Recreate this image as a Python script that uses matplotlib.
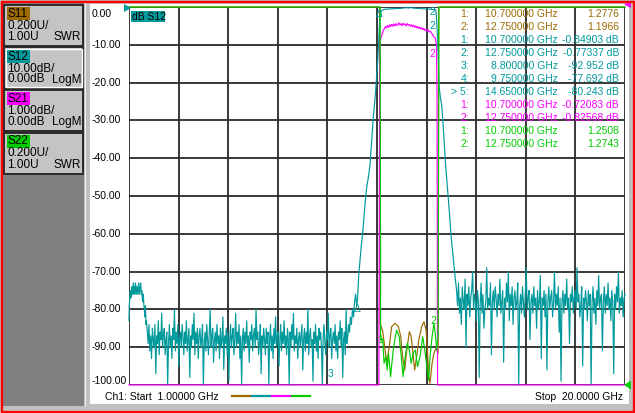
import numpy as np
import matplotlib
matplotlib.use("Agg")
import matplotlib.pyplot as plt
from matplotlib.patches import Rectangle, Polygon

W, H = 635, 413
FONT = "Liberation Sans"

# ---------------- colours ----------------
C_S11 = '#9c6a00'
C_S12 = '#00999c'
C_S21 = '#ff00ff'
C_S22 = '#00cc00'
C_GRID = '#2a2a2a'

# ---------------- sweep ----------------
f_start, f_stop = 1.0, 20.0
n_div = 10

# ---------------- S12 (dB, 10 dB/div, ref 0 dB at top) ----------------
s12_start_f = [1.00, 1.01, 1.03, 1.05, 1.07, 1.09, 1.11, 1.13, 1.15, 1.17, 1.19, 1.21, 1.23,
               1.25, 1.27, 1.29, 1.31, 1.33, 1.35, 1.37, 1.39, 1.41, 1.43, 1.45, 1.47, 1.49,
               1.51, 1.53, 1.55, 1.57, 1.59, 1.61, 1.63, 1.65, 1.67]
s12_start_db = [-83, -79, -77, -75, -77, -76, -74, -76, -75, -73, -76, -74, -75,
                -73, -76, -74, -75, -76, -74, -73, -76, -75, -74, -73, -76, -75,
                -77, -78, -76, -79, -80, -82, -79, -84, -83]

s12_noise_left_range = (1.70, 9.48)
s12_noise_left_db = [
    -86, -89, -84, -91, -87, -93, -85, -88, -90, -84, -97, -87, -89, -83, -92, -86, -88, -81, -90, -87,
    -85, -92, -88, -86, -100, -89, -84, -90, -87, -93, -85, -88, -80, -91, -86, -89, -84, -95, -88, -86,
    -90, -84, -87, -92, -86, -89, -83, -91, -88, -85, -98, -87, -90, -84, -88, -81, -92, -86, -89, -85,
    -93, -87, -85, -90, -88, -84, -101, -89, -86, -91, -84, -88, -92, -86, -80, -90, -87, -85, -94, -88,
    -86, -91, -84, -89, -87, -93, -85, -90, -88, -82, -96, -87, -89, -85, -92, -86, -99, -88, -84, -90,
    -87, -85, -92, -88, -81, -90, -86, -89, -84, -93, -87, -100, -88, -85, -91, -86, -89, -83, -90, -87,
    -94, -86, -88, -84, -91, -87, -85, -90, -80, -88, -86, -92, -89, -84, -97, -87, -90, -85, -88, -92,
    -85, -89, -86, -102, -88, -84, -91, -87, -93, -85, -89, -82, -90, -87, -86, -95, -88, -84, -91, -86,
    -89, -83, -90, -87, -92, -85, -88, -100, -86, -90, -84, -88, -81, -91, -87, -89, -85, -93, -88, -86,
    -90, -87, -84, -96, -88, -85, -91, -86, -89, -80, -92, -87, -85, -90, -88, -99, -86, -89, -84, -91,
    -87, -93, -85, -88, -86, -90, -101, -87, -84, -89, -92, -86, -88, -81, -90, -87, -85, -93, -88, -86,
    -89, -84, -91, -87, -93, -86, -88, -83, -90, -85, -98, -88, -86, -92, -80, -89, -87, -84, -86, -82]

s12_skirt_left_f = [9.52, 9.56, 9.60, 9.64, 9.68, 9.72, 9.75, 9.80, 9.85, 9.90, 9.95, 10.03,
                    10.10, 10.17, 10.23, 10.30, 10.36, 10.42, 10.47, 10.53, 10.57, 10.60, 10.63, 10.67]
s12_skirt_left_db = [-84, -80, -82, -78, -76, -79, -77.7, -71, -67, -63, -60, -53,
                     -48, -45, -42, -35, -29, -24.6, -20, -14, -8, -4, -1.8, -1.0]

s12_pass_f = [10.70, 10.80, 10.90, 11.00, 11.10, 11.20, 11.35, 11.50, 11.60, 11.70, 11.80,
              11.90, 12.00, 12.15, 12.30, 12.45, 12.60, 12.70, 12.75]
s12_pass_db = [-0.85, -0.62, -0.55, -0.50, -0.45, -0.42, -0.38, -0.30, -0.18, -0.28, -0.15,
               -0.30, -0.35, -0.42, -0.48, -0.55, -0.62, -0.72, -0.77]

s12_skirt_right_f = [12.78, 12.82, 12.85, 12.88, 12.93, 12.98, 13.05, 13.13, 13.20, 13.27,
                     13.33, 13.40, 13.46, 13.50]
s12_skirt_right_db = [-3, -8, -14, -21, -24, -26, -33, -42, -48, -54, -60, -65, -69, -72]

s12_noise_right_range = (13.55, 20.0)
s12_noise_right_db = [
    -75, -79, -73, -81, -77, -84, -74, -78, -80, -72, -90, -76, -79, -74, -82, -77, -75, -70, -80, -76,
    -78, -83, -75, -77, -98, -79, -73, -81, -76, -85, -80, -78, -69, -80, -77, -79, -73, -92, -78, -75,
    -80, -74, -77, -82, -76, -79, -72, -81, -78, -75, -94, -77, -80, -73, -78, -70, -83, -76, -79, -74,
    -84, -77, -75, -80, -78, -73, -100, -79, -76, -81, -74, -78, -82, -76, -69, -80, -77, -75, -88, -78,
    -76, -81, -74, -79, -77, -85, -75, -80, -78, -71, -93, -77, -79, -75, -82, -76, -96, -78, -74, -80,
    -77, -75, -82, -78, -70, -80, -76, -79, -74, -86, -77, -99, -78, -75, -81, -76, -79, -72, -80, -77,
    -89, -76, -78, -74, -81, -77, -75, -80, -69, -78, -76, -82, -79, -74, -95, -77, -80, -75, -78, -83,
    -75, -79, -76, -101, -78, -74, -81, -77, -84, -75, -79, -71, -80, -77, -76, -91, -78, -74, -81, -76,
    -79, -73, -80, -77, -83, -75, -78, -97, -76, -80, -74, -78, -70, -81, -77, -79, -75, -82, -77, -76]

# ---------------- S21 (dB, 1 dB/div, ref 0 dB at top) ----------------
s21_f = [1.00, 10.57, 10.60,
         10.62, 10.66, 10.70, 10.74, 10.78, 10.82, 10.86, 10.90, 10.94, 10.98, 11.02, 11.06,
         11.10, 11.14, 11.18, 11.22, 11.26, 11.30, 11.34, 11.38, 11.42, 11.46, 11.50, 11.54,
         11.58, 11.62, 11.66, 11.70, 11.74, 11.78, 11.82, 11.86, 11.90, 11.94, 11.98, 12.02,
         12.06, 12.10, 12.14, 12.18, 12.22, 12.26, 12.30, 12.34, 12.38, 12.42, 12.46, 12.50,
         12.54, 12.58, 12.62, 12.66, 12.70, 12.74, 12.78,
         12.80, 12.82, 20.00]
s21_db = [-76.0, -10.5, -2.5,
          -0.95, -0.78, -0.72, -0.62, -0.58, -0.52, -0.55, -0.49, -0.54, -0.47, -0.52, -0.46,
          -0.51, -0.45, -0.50, -0.44, -0.49, -0.46, -0.42, -0.48, -0.44, -0.49, -0.43, -0.47,
          -0.45, -0.50, -0.44, -0.48, -0.46, -0.51, -0.47, -0.52, -0.48, -0.54, -0.50, -0.55,
          -0.52, -0.57, -0.53, -0.58, -0.55, -0.60, -0.57, -0.62, -0.59, -0.64, -0.61, -0.66,
          -0.64, -0.68, -0.72, -0.78, -0.80, -0.83, -1.05,
          -2.5, -10.5, -78.0]

# ---------------- S11 (SWR, 0.2 U/div, ref 1.00 U at bottom) ----------------
s11_f = [1.00, 10.60,
         10.615, 10.72, 10.81, 10.87, 10.97, 11.06, 11.19, 11.32, 11.41, 11.48, 11.56, 11.64,
         11.74, 11.81, 11.89, 11.94, 12.02, 12.10, 12.21, 12.30, 12.38, 12.43, 12.48, 12.53,
         12.61, 12.68, 12.76, 12.84,
         12.86, 20.00]
s11_swr = [12.0, 12.0,
           1.326, 1.285, 1.185, 1.115, 1.203, 1.309, 1.326, 1.309, 1.256, 1.150, 1.079, 1.185,
           1.282, 1.256, 1.150, 1.079, 1.150, 1.238, 1.309, 1.335, 1.291, 1.185, 1.044, 1.009,
           1.115, 1.168, 1.195, 1.168,
           12.0, 12.0]

# ---------------- S22 (SWR, 0.2 U/div, ref 1.00 U at bottom) ----------------
s22_f = [1.00, 10.62,
         10.64, 10.72, 10.77, 10.84, 10.89, 10.94, 11.02, 11.12, 11.25, 11.35, 11.43, 11.50,
         11.58, 11.66, 11.74, 11.81, 11.89, 11.97, 12.05, 12.15, 12.25, 12.33, 12.41, 12.48,
         12.53, 12.61, 12.68, 12.73, 12.79, 12.84,
         12.875, 20.00]
s22_swr = [12.0, 12.0,
           1.238, 1.245, 1.115, 1.150, 1.079, 1.168, 1.044, 1.185, 1.291, 1.256, 1.150, 1.044,
           1.150, 1.220, 1.185, 1.115, 1.168, 1.185, 1.097, 1.150, 1.256, 1.185, 1.097, 1.026,
           1.150, 1.256, 1.326, 1.274, 1.185, 1.256,
           12.0, 12.0]

# ---------------- channel setup (left panel) ----------------
ch_names = ["S11", "S12", "S21", "S22"]
ch_colors = [C_S11, C_S12, C_S21, C_S22]
ch_scale = ["0.200U/", "10.00dB/", "1.000dB/", "0.200U/"]
ch_ref = ["1.00U", "0.00dB", "0.00dB", "1.00U"]
ch_fmt = ["SWR", "LogM", "LogM", "SWR"]

ytick_labels = ["0.00", "-10.00", "-20.00", "-30.00", "-40.00", "-50.00",
                "-60.00", "-70.00", "-80.00", "-90.00", "-100.00"]

# ---------------- marker readout ----------------
mk_idx = ["1:", "2:", "1:", "2:", "3:", "4:", "> 5:", "1:", "2:", "1:", "2:"]
mk_freq = ["10.700000 GHz", "12.750000 GHz", "10.700000 GHz", "12.750000 GHz",
           "8.800000 GHz", "9.750000 GHz", "14.650000 GHz", "10.700000 GHz",
           "12.750000 GHz", "10.700000 GHz", "12.750000 GHz"]
mk_val = ["1.2776", "1.1966", "-0.84903 dB", "-0.77337 dB", "-92.952 dB", "-77.692 dB",
          "-80.243 dB", "-0.72083 dB", "-0.82568 dB", "1.2508", "1.2743"]
mk_col = [C_S11, C_S11, C_S12, C_S12, C_S12, C_S12, C_S12, C_S21, C_S21, C_S22, C_S22]
mk_num_f = [10.70, 12.75, 10.70, 12.75, 8.80, 9.75, 14.65, 10.70, 12.75, 10.70, 12.75]
mk_num_v = [1.2776, 1.1966, -0.84903, -0.77337, -92.952, -77.692, -80.243,
            -0.72083, -0.82568, 1.2508, 1.2743]

# ======================================================================
fig = plt.figure(figsize=(W / 100, H / 100), dpi=100, facecolor='#c0c0c0')


def rect(x0, y0, x1, y1, z=-10, **kw):
    r = Rectangle((x0 / W, 1 - y1 / H), (x1 - x0) / W, (y1 - y0) / H,
                  transform=fig.transFigure, zorder=z, **kw)
    fig.add_artist(r)
    return r


def ftext(x, y, s, **kw):
    kw.setdefault('family', FONT)
    kw.setdefault('fontsize', 7.5)
    kw.setdefault('va', 'center')
    return fig.text(x / W, 1 - y / H, s, **kw)


# window background pieces
rect(90, 4, 629, 404, facecolor='white', edgecolor='none')
rect(3, 3, 84, 406, facecolor='#808080', edgecolor='none')
rect(84.5, 3, 86, 406, facecolor='#f0f0f0', edgecolor='none')

# channel buttons
tops = [5, 47.5, 90, 132.5]
for i, t in enumerate(tops):
    rect(4, t, 83, t + 41, z=1, facecolor='#c4c4c4', edgecolor='#2a2a2a', linewidth=1.4)
    if i == 1:
        rect(5.5, t + 1.5, 81.5, t + 39.5, z=1.1, facecolor='none', edgecolor='white', linewidth=1.0)
    rect(7, t + 2.3, 30, t + 15, z=2, facecolor=ch_colors[i], edgecolor='none')
    ftext(8, t + 9, ch_names[i], fontsize=8.5, color='black', zorder=3)
    ftext(7, t + 21, ch_scale[i], fontsize=8.5, color='black', zorder=3)
    ftext(7, t + 32, ch_ref[i], fontsize=8.5, color='black', zorder=3)
    ftext(81, t + 32, ch_fmt[i], fontsize=8.5, color='black', ha='right', zorder=3)

# plot axes
PX0, PX1, PY0, PY1 = 129, 625, 7, 385
ax = fig.add_axes([PX0 / W, 1 - PY1 / H, (PX1 - PX0) / W, (PY1 - PY0) / H])
ax.set_facecolor('white')
ax.set_xlim(f_start, f_stop)
ax.set_ylim(0, n_div)
ax.set_xticks(np.linspace(f_start, f_stop, n_div + 1))
ax.set_yticks(np.arange(n_div + 1))
ax.grid(True, color=C_GRID, linewidth=1.3)
ax.tick_params(length=0, labelleft=False, labelbottom=False)
for s in ax.spines.values():
    s.set_visible(False)


def db_div(v, scale, ref=0.0, refpos=10):
    return np.clip(refpos + (np.asarray(v, float) - ref) / scale, 0, n_div)


def swr_div(v, scale=0.2, ref=1.0, refpos=0):
    return np.clip(refpos + (np.asarray(v, float) - ref) / scale, 0, n_div)


s12_f = np.concatenate([s12_start_f,
                        np.linspace(*s12_noise_left_range, len(s12_noise_left_db)),
                        s12_skirt_left_f, s12_pass_f, s12_skirt_right_f,
                        np.linspace(*s12_noise_right_range, len(s12_noise_right_db))])
s12_db = np.concatenate([s12_start_db, s12_noise_left_db, s12_skirt_left_db,
                         s12_pass_db, s12_skirt_right_db, s12_noise_right_db])

kw = dict(lw=0.85, clip_on=False)
ax.plot(s11_f, swr_div(s11_swr), color=C_S11, zorder=3, **kw)
ax.plot(s12_f, db_div(s12_db, 10.0), color=C_S12, zorder=4, **kw)
ax.plot(s21_f, db_div(s21_db, 1.0), color=C_S21, zorder=5, **kw)
ax.plot(s22_f, swr_div(s22_swr), color=C_S22, zorder=6, **kw)


# marker glyphs on traces
def glyph(f, div, s, col, dx, dy):
    ax.annotate(s, (f, div), xytext=(dx * 0.72, dy * 0.72), textcoords='offset points',
                color=col, fontsize=7.5, family=FONT, ha='center', va='center',
                annotation_clip=False, zorder=7)


glyph(mk_num_f[2], db_div(mk_num_v[2], 10.0), "\u0394", C_S12, -3, -4)
glyph(mk_num_f[3], db_div(mk_num_v[3], 10.0), "2", C_S12, -3, -2)
glyph(mk_num_f[3], db_div(mk_num_v[3], 10.0), "2", C_S12, -3, -16)
glyph(mk_num_f[4], db_div(mk_num_v[4], 10.0), "3", C_S12, -2, -16)
glyph(mk_num_f[5], db_div(mk_num_v[5], 10.0), "\u0394", C_S12, 0, -8)
glyph(mk_num_f[8], db_div(mk_num_v[8], 1.0), "2", C_S21, -3, -16)
glyph(mk_num_f[10], swr_div(mk_num_v[10]), "2", C_S22, -2, 12)
glyph(mk_num_f[9], swr_div(mk_num_v[9]), "1", C_S22, -2, -2)

# "dB S12" label
rect(130.5, 11, 165, 22, z=5, facecolor=C_S12, edgecolor='none')
ftext(132, 16.5, "dB S12", color='black', zorder=6)


# reference triangles
def tri(pts, col):
    fig.add_artist(Polygon([(x / W, 1 - y / H) for x, y in pts], closed=True,
                           transform=fig.transFigure, facecolor=col, edgecolor='none', zorder=8))


tri([(124, 4), (131, 8), (124, 12)], C_S12)
tri([(631, 1), (624, 4.5), (631, 8)], C_S21)
tri([(631, 380.5), (624, 385), (631, 389.5)], C_S22)

# y labels (S12 scale)
for i, lab in enumerate(ytick_labels):
    y = min(max(PY0 + i * (PY1 - PY0) / n_div, 14), 381)
    ftext(92, y, lab, color='black', ha='left')

# marker readout table
for i in range(len(mk_idx)):
    y = 14 + 13.0 * i
    ftext(469, y, mk_idx[i], color=mk_col[i], ha='right', zorder=9)
    ftext(558, y, mk_freq[i], color=mk_col[i], ha='right', zorder=9)
    ftext(619, y, mk_val[i], color=mk_col[i], ha='right', zorder=9)

# bottom annotation
ftext(105, 397, "Ch1: Start  1.00000 GHz", color='black', ha='left')
ftext(623, 397.5, "Stop  20.0000 GHz", color='black', ha='right')
for k, col in enumerate(ch_colors):
    x0 = 232 + 20 * k
    fig.add_artist(plt.Line2D([x0 / W, (x0 + 18) / W], [1 - 395.5 / H] * 2,
                              transform=fig.transFigure, color=col, lw=1.6, zorder=3))

# red window frame
rect(0.7, 0.7, 634.3, 412.3, z=20, facecolor='none', edgecolor='#ff0000', linewidth=1.0)
rect(2.3, 2.3, 632.7, 410.7, z=20, facecolor='none', edgecolor='#ff0000', linewidth=0.9)

fig.savefig("out.png", dpi=100, facecolor=fig.get_facecolor())
